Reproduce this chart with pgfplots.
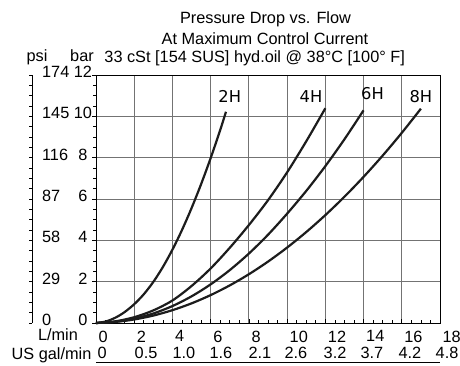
\documentclass[border=0pt]{standalone}
\usepackage{fontspec}
\setmainfont{Liberation Sans}
\newfontfamily\labelfont{DejaVu Sans}
\usepackage{pgfplots}
\pgfplotsset{compat=1.18}
\pgfplotsset{/pgf/number format/assume math mode=true}
\definecolor{gridgray}{RGB}{115,115,115}
\definecolor{curvecol}{RGB}{28,28,28}

\begin{document}
\fontsize{16.3}{19}\selectfont
\begin{tikzpicture}[x=1pt,y=1pt]
\useasboundingbox (0,0) rectangle (460,366);

% psi scale
\begin{axis}[
    at={(32pt,43pt)}, anchor=south west, scale only axis,
    width=60pt, height=248pt,
    xmin=0, xmax=1, ymin=0, ymax=174.05,
    axis x line=none, axis y line*=left,
    ytick={0,29,58,87,116,145,174},
    minor y tick num=3,
    ytick align=outside,
    major tick length=3pt, minor tick length=3pt,
    tick style={black, line width=0.7pt},
    axis line style={black, line width=0.9pt},
    yticklabel style={anchor=west, xshift=7.5pt, yshift=3pt},
]
\addplot[draw=none] coordinates {(0,0) (1,174)};
\end{axis}

% main chart, bar vs L/min
\begin{axis}[
    at={(96pt,43pt)}, anchor=south west, scale only axis,
    width=344pt, height=248pt,
    xmin=0, xmax=18, ymin=0, ymax=12,
    xtick={0,2,...,18}, ytick={0,2,...,12},
    minor x tick num=3, minor y tick num=3,
    xtick pos=bottom, ytick pos=left,
    xtick align=inside, ytick align=outside,
    major tick length=4pt, minor tick length=3pt,
    tick style={black, line width=0.7pt},
    grid=major, major grid style={gridgray, line width=0.9pt},
    axis line style={black, line width=0.9pt},
    xticklabel style={anchor=north west, xshift=-3pt, yshift=-2pt},
    yticklabel style={anchor=center, xshift=-9pt, yshift=3pt},
    extra x ticks={0,1.94,3.92,5.86,7.90,9.78,11.83,13.76,15.75,17.69},
    extra x tick labels={0,0.5,1.0,1.6,2.1,2.6,3.2,3.7,4.2,4.8},
    extra x tick style={grid=none, major tick length=0pt,
        tick label style={anchor=north west, xshift=-1pt, yshift=-16pt}},
    clip=false,
]
% 2H
\addplot[curvecol, line width=2.2pt, smooth] coordinates {
 (0,0) (0.5,0.07) (1,0.25) (1.5,0.53) (2,0.91) (2.5,1.39) (3,1.99)
 (3.5,2.71) (4,3.55) (4.5,4.50) (5,5.56) (5.5,6.72) (6,7.98) (6.5,9.34) (6.8,10.22)};
% 4H
\addplot[curvecol, line width=2.2pt, smooth] coordinates {
 (0,0) (1,0.08) (2,0.28) (3,0.61) (4,1.09) (5,1.79) (6,2.64) (7,3.64)
 (8,4.74) (9,5.94) (10,7.29) (11,8.79) (12,10.39)};
% 6H
\addplot[curvecol, line width=2.2pt, smooth] coordinates {
 (0,0) (1,0.06) (2,0.21) (3,0.46) (4,0.82) (5,1.29) (6,1.87) (7,2.56)
 (8,3.36) (9,4.27) (10,5.29) (11,6.39) (12,7.59) (13,8.89) (14,10.29)};
% 8H
\addplot[curvecol, line width=2.2pt, smooth] coordinates {
 (0,0) (1,0.05) (2,0.17) (3,0.36) (4,0.62) (5,0.95) (6,1.35) (7,1.82)
 (8,2.36) (9,2.97) (10,3.65) (11,4.40) (12,5.22) (13,6.11) (14,7.07)
 (15,8.10) (16,9.20) (17,10.37)};
\node[font=\labelfont] at (axis cs:7.0,10.98) {2H};
\node[font=\labelfont] at (axis cs:11.25,10.98) {4H};
\node[font=\labelfont] at (axis cs:14.47,11.08) {6H};
\node[font=\labelfont] at (axis cs:17.0,10.94) {8H};
\end{axis}

% titles and unit labels
\node[anchor=base] at (265.5,342.7) {Pressure Drop vs. Flow};
\node[anchor=base] at (265,321) {At Maximum Control Current};
\node[anchor=base] at (254.7,303.3) {33 cSt [154 SUS] hyd.oil @ 38°C [100° F]};
\node[anchor=base] at (37,304) {psi};
\node[anchor=base] at (82,304) {bar};
\node[anchor=base] at (58,25) {L/min};
\node[anchor=base] at (51.5,6.7) {US gal/min};
\draw[black, line width=0.9pt] (96,4) -- (440,4);
\end{tikzpicture}
\end{document}
